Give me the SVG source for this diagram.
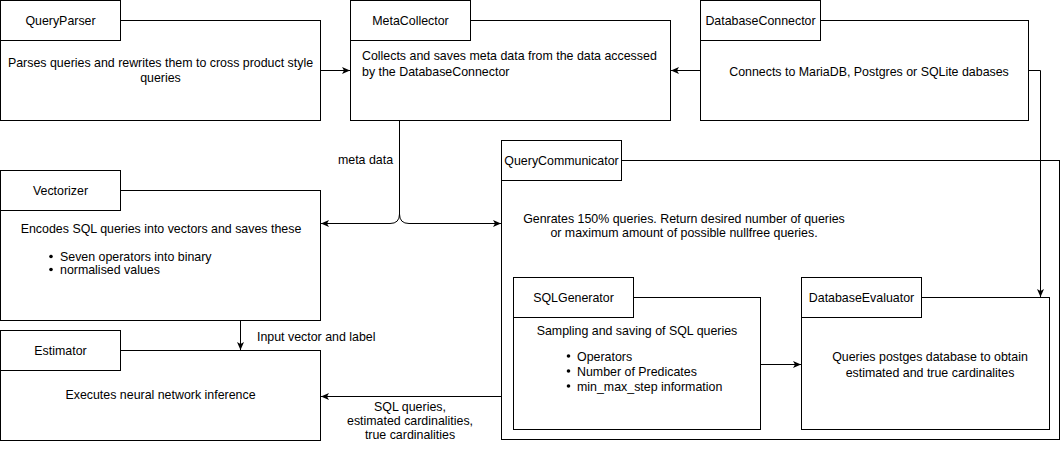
<svg xmlns="http://www.w3.org/2000/svg" width="1061" height="451" viewBox="0 0 1061 451">
<style>
.b{fill:#fff;stroke:#000;stroke-width:1}
.t{font-family:"Liberation Sans",Arial,sans-serif;font-size:12.4px;fill:#000}
.c{text-anchor:middle}
.e{fill:none;stroke:#000;stroke-width:1}
</style>
<defs>
<marker id="ar" markerUnits="userSpaceOnUse" markerWidth="10" markerHeight="10" viewBox="0 0 10 10" refX="9" refY="5" orient="auto">
<path d="M1,1.5 L9,5 L1,8.5 L3,5 Z" fill="#000"/>
</marker>
</defs>
<rect width="1061" height="451" fill="#fff"/>
<g id="QueryParser">
<rect class="b" x="0.5" y="20.5" width="320" height="100"/>
<rect class="b" x="0.5" y="0.5" width="120" height="40"/>
<text class="t c" x="60.5" y="24.5">QueryParser</text>
<text class="t c" x="160.5" y="67">Parses queries and rewrites them to cross product style</text>
<text class="t c" x="160.5" y="82">queries</text>
</g>
<g id="MetaCollector">
<rect class="b" x="350.5" y="20.5" width="320" height="100"/>
<rect class="b" x="350.5" y="0.5" width="120" height="40"/>
<text class="t c" x="410.5" y="24.5">MetaCollector</text>
<text class="t" x="362" y="60">Collects and saves meta data from the data accessed</text>
<text class="t" x="362" y="76">by the DatabaseConnector</text>
</g>
<g id="DatabaseConnector">
<rect class="b" x="700.5" y="20.5" width="328" height="100"/>
<rect class="b" x="700.5" y="0.5" width="120" height="40"/>
<text class="t c" x="760.5" y="24.5">DatabaseConnector</text>
<text class="t c" x="869" y="76">Connects to MariaDB, Postgres or SQLite dabases</text>
</g>
<g id="Vectorizer">
<rect class="b" x="0.5" y="190.5" width="320" height="130"/>
<rect class="b" x="0.5" y="170.5" width="120" height="40"/>
<text class="t c" x="60.5" y="195">Vectorizer</text>
<text class="t c" x="161" y="233">Encodes SQL queries into vectors and saves these</text>
<circle cx="51" cy="256.5" r="1.8" fill="#000"/>
<text class="t" x="60" y="261">Seven operators into binary</text>
<circle cx="51" cy="269.5" r="1.8" fill="#000"/>
<text class="t" x="60" y="274">normalised values</text>
</g>
<g id="Estimator">
<rect class="b" x="0.5" y="350.5" width="320" height="90"/>
<rect class="b" x="0.5" y="330.5" width="120" height="40"/>
<text class="t c" x="60.5" y="355">Estimator</text>
<text class="t c" x="160.5" y="399">Executes neural network inference</text>
</g>
<g id="QueryCommunicator">
<rect class="b" x="501.5" y="160.5" width="558" height="279"/>
<rect class="b" x="501.5" y="140.5" width="120" height="40"/>
<text class="t c" x="561.5" y="165">QueryCommunicator</text>
<text class="t c" x="684" y="222.5">Genrates 150% queries. Return desired number of queries</text>
<text class="t c" x="684" y="237">or maximum amount of possible nullfree queries.</text>
</g>
<g id="SQLGenerator">
<rect class="b" x="513.5" y="297.5" width="247" height="132"/>
<rect class="b" x="513.5" y="277.5" width="120" height="40"/>
<text class="t c" x="573.5" y="301.5">SQLGenerator</text>
<text class="t c" x="637" y="335">Sampling and saving of SQL queries</text>
<circle cx="568.5" cy="356" r="1.8" fill="#000"/>
<text class="t" x="577" y="360.5">Operators</text>
<circle cx="568.5" cy="371" r="1.8" fill="#000"/>
<text class="t" x="577" y="375.5">Number of Predicates</text>
<circle cx="568.5" cy="386" r="1.8" fill="#000"/>
<text class="t" x="577" y="390.5">min_max_step information</text>
</g>
<g id="DatabaseEvaluator">
<rect class="b" x="801.5" y="297.5" width="248" height="132"/>
<rect class="b" x="801.5" y="277.5" width="120" height="40"/>
<text class="t c" x="861.5" y="301.5">DatabaseEvaluator</text>
<text class="t c" x="930" y="361">Queries postges database to obtain</text>
<text class="t c" x="930" y="377">estimated and true cardinalites</text>
</g>
<g id="connectors">
<path class="e" d="M320.5,70.5 H350" marker-end="url(#ar)"/>
<path class="e" d="M700.5,70.5 H671" marker-end="url(#ar)"/>
<path class="e" d="M399.5,120.5 V214 Q399.5,223.5 390,223.5 H321" marker-end="url(#ar)"/>
<path class="e" d="M399.5,120.5 V214 Q399.5,223.5 409,223.5 H501" marker-end="url(#ar)"/>
<path class="e" d="M1028.5,70.5 H1040.5 V297" marker-end="url(#ar)"/>
<path class="e" d="M240.5,320.5 V350" marker-end="url(#ar)"/>
<path class="e" d="M501.5,396.5 H321" marker-end="url(#ar)"/>
<path class="e" d="M760.5,364.5 H801" marker-end="url(#ar)"/>
<text class="t c" x="365.5" y="164">meta data</text>
<text class="t" x="257" y="341">Input vector and label</text>
<text class="t c" x="410" y="411">SQL queries,</text>
<text class="t c" x="410" y="425">estimated cardinalities,</text>
<text class="t c" x="410" y="439">true cardinalities</text>
</g>
</svg>
